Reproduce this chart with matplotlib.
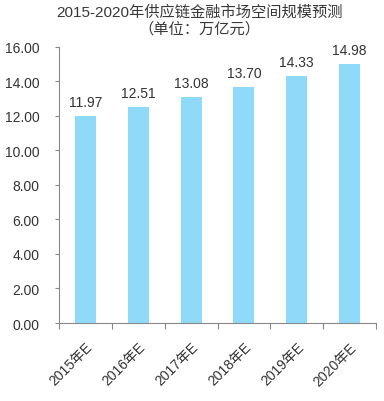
import matplotlib.pyplot as plt
import numpy as np

plt.rcParams['font.family'] = ['Liberation Sans', 'Noto Sans CJK SC']

years = ['2015年E', '2016年E', '2017年E', '2018年E', '2019年E', '2020年E']
values = [11.97, 12.51, 13.08, 13.70, 14.33, 14.98]

fig = plt.figure(figsize=(3.84, 4.02), dpi=100)
ax = fig.add_axes([0.154, 0.194, 0.825, 0.687])

x = np.arange(len(years))
ax.bar(x, values, width=0.4, color='#8fdaf8')
for xi, v in zip(x, values):
    ax.annotate('%.2f' % v, (xi, v), xytext=(0, 5), textcoords='offset points',
                ha='center', va='bottom', fontsize=10, color='#333333')

ax.set_xlim(-0.5, len(years) - 0.5)
ax.set_ylim(0, 16)
ax.set_yticks(np.arange(0, 17, 2))
ax.set_yticklabels(['%.2f' % t for t in np.arange(0, 17, 2)])
ax.set_xticks(np.arange(-0.5, len(years), 1))
ax.set_xticklabels([])
ax.set_xticks(x, minor=True)
ax.set_xticklabels(years, minor=True, rotation=45, ha='right', rotation_mode='anchor')
ax.tick_params(axis='x', which='minor', length=0, pad=12, labelsize=10, labelcolor='#333333')
ax.tick_params(axis='x', which='major', length=4, color='#888888')
ax.tick_params(axis='y', length=3, color='#888888', labelsize=10, labelcolor='#333333', pad=11)

for s in ['top', 'right']:
    ax.spines[s].set_visible(False)
for s in ['left', 'bottom']:
    ax.spines[s].set_color('#888888')

fig.text(0.52, 0.97, '2015-2020年供应链金融市场空间规模预测', ha='center', va='center', fontsize=11, color='#383838')
fig.text(0.52, 0.927, '（单位：万亿元）', ha='center', va='center', fontsize=11, color='#383838')

fig.savefig('out.png', dpi=100)
